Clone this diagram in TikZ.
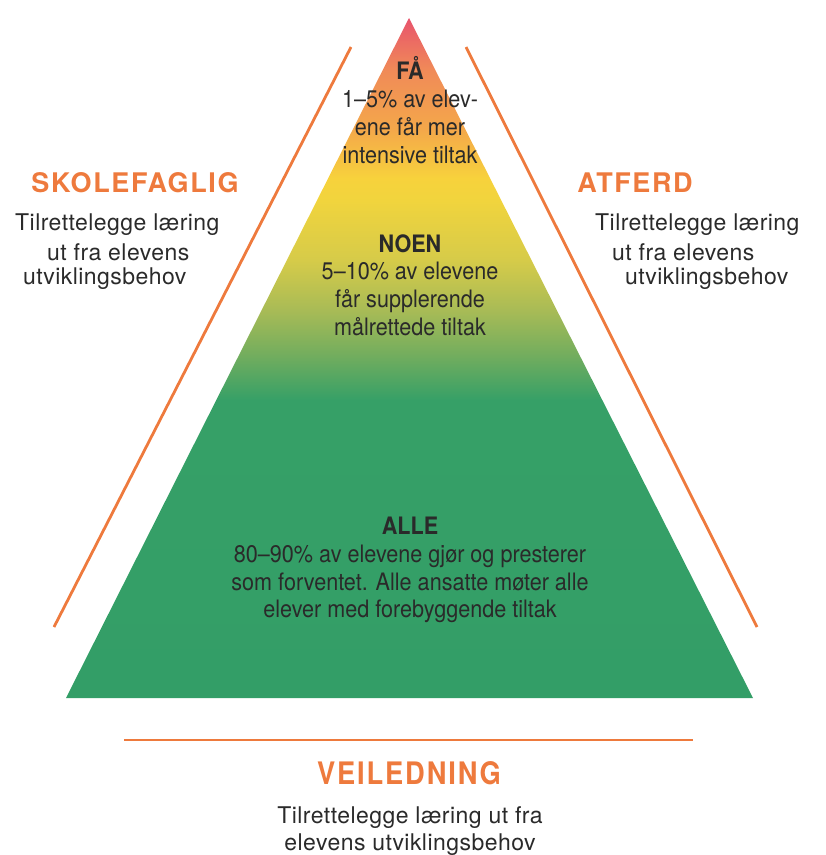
\documentclass[tikz,border=0pt]{standalone}
\usepackage{fontspec}
\setmainfont{TeX Gyre Heros}
\newfontfamily\cond[FakeStretch=0.9]{TeX Gyre Heros}
\newfontfamily\sidefont[LetterSpace=2]{TeX Gyre Heros}
\newfontfamily\headfont[LetterSpace=6]{TeX Gyre Heros}
\newfontfamily\condhead[FakeStretch=0.88,LetterSpace=6]{TeX Gyre Heros}
\definecolor{orng}{HTML}{EE7A3D}
\definecolor{txt}{HTML}{2A2A2A}
\definecolor{gr}{HTML}{339E67}
\definecolor{c1}{HTML}{E8536C}
\definecolor{c2}{HTML}{F08A58}
\definecolor{c3}{HTML}{F4A84A}
\definecolor{c4}{HTML}{F7D23C}
\definecolor{c5}{HTML}{F1D43D}
\definecolor{c6}{HTML}{D6CB49}
\definecolor{c7}{HTML}{A8BB56}
\definecolor{c8}{HTML}{72AD5E}
\definecolor{c9}{HTML}{36A067}
\pgfdeclareverticalshading{pyr}{100bp}{color(0bp)=(gr); color(25bp)=(gr); color(46.9bp)=(c9); color(50.2bp)=(c8); color(53.5bp)=(c7); color(57.2bp)=(c6); color(61.6bp)=(c5); color(63.2bp)=(c4); color(66.8bp)=(c3); color(71.2bp)=(c2); color(75bp)=(c1); color(100bp)=(c1)}
\tikzset{
  oline/.style={draw=orng, line width=2.8pt},
  head/.style={text=orng, font=\headfont\bfseries\fontsize{27}{30}\selectfont, inner sep=0pt},
  side/.style={text=txt, font=\sidefont\fontsize{23}{27.5}\selectfont, inner sep=0pt, anchor=west},
  tri/.style={text=txt, font=\cond\fontsize{24}{27.8}\selectfont, align=center, inner sep=0pt},
}
\begin{document}
\begin{tikzpicture}[x=1pt,y=-1pt]
\useasboundingbox (0,0) rectangle (826,855);
% pyramid
\coordinate (apex) at (409,18);
\coordinate (bl) at (66,698);
\coordinate (br) at (753,698);
\path[shading=pyr] (apex) -- (br) -- (bl) -- cycle;
% orange lines
\coordinate (l1) at (351,47); \coordinate (l2) at (54,627);
\coordinate (r1) at (466,47); \coordinate (r2) at (757,627);
\coordinate (b1) at (124,740); \coordinate (b2) at (693,740);
\draw[oline] (l1) -- (l2);
\draw[oline] (r1) -- (r2);
\draw[oline] (b1) -- (b2);
% pyramid texts
\node[tri] (fa) at (410,110) {{\bfseries FÅ}\\1–5\% av elev-\\ene får mer\\intensive tiltak};
\node[tri] (noen) at (410,285) {{\bfseries NOEN}\\5–10\% av elevene\\får supplerende\\målrettede tiltak};
\node[tri] (alle) at (410,570) {{\bfseries ALLE}\\80–90\% av elevene gjør og presterer\\som forventet. Alle ansatte møter alle\\elever med forebyggende tiltak};
% side headings
\node[head] (skole) at (135,183) {SKOLEFAGLIG};
\node[head] (atferd) at (635,183) {ATFERD};
\node[head, font=\condhead\bfseries\fontsize{31}{33}\selectfont] (veil) at (409,773) {VEILEDNING};
% side texts
\node[side] (s1) at (15,225) {Tilrettelegge læring};
\node[side] (s2) at (47,252) {ut fra elevens};
\node[side] (s3) at (23,279) {utviklingsbehov};
\node[side] (a1) at (595,225) {Tilrettelegge læring};
\node[side] (a2) at (612,252) {ut fra elevens};
\node[side] (a3) at (625,279) {utviklingsbehov};
\node[side, anchor=center, align=center] (v) at (410,831) {Tilrettelegge læring ut fra\\elevens utviklingsbehov};
\end{tikzpicture}
\end{document}
